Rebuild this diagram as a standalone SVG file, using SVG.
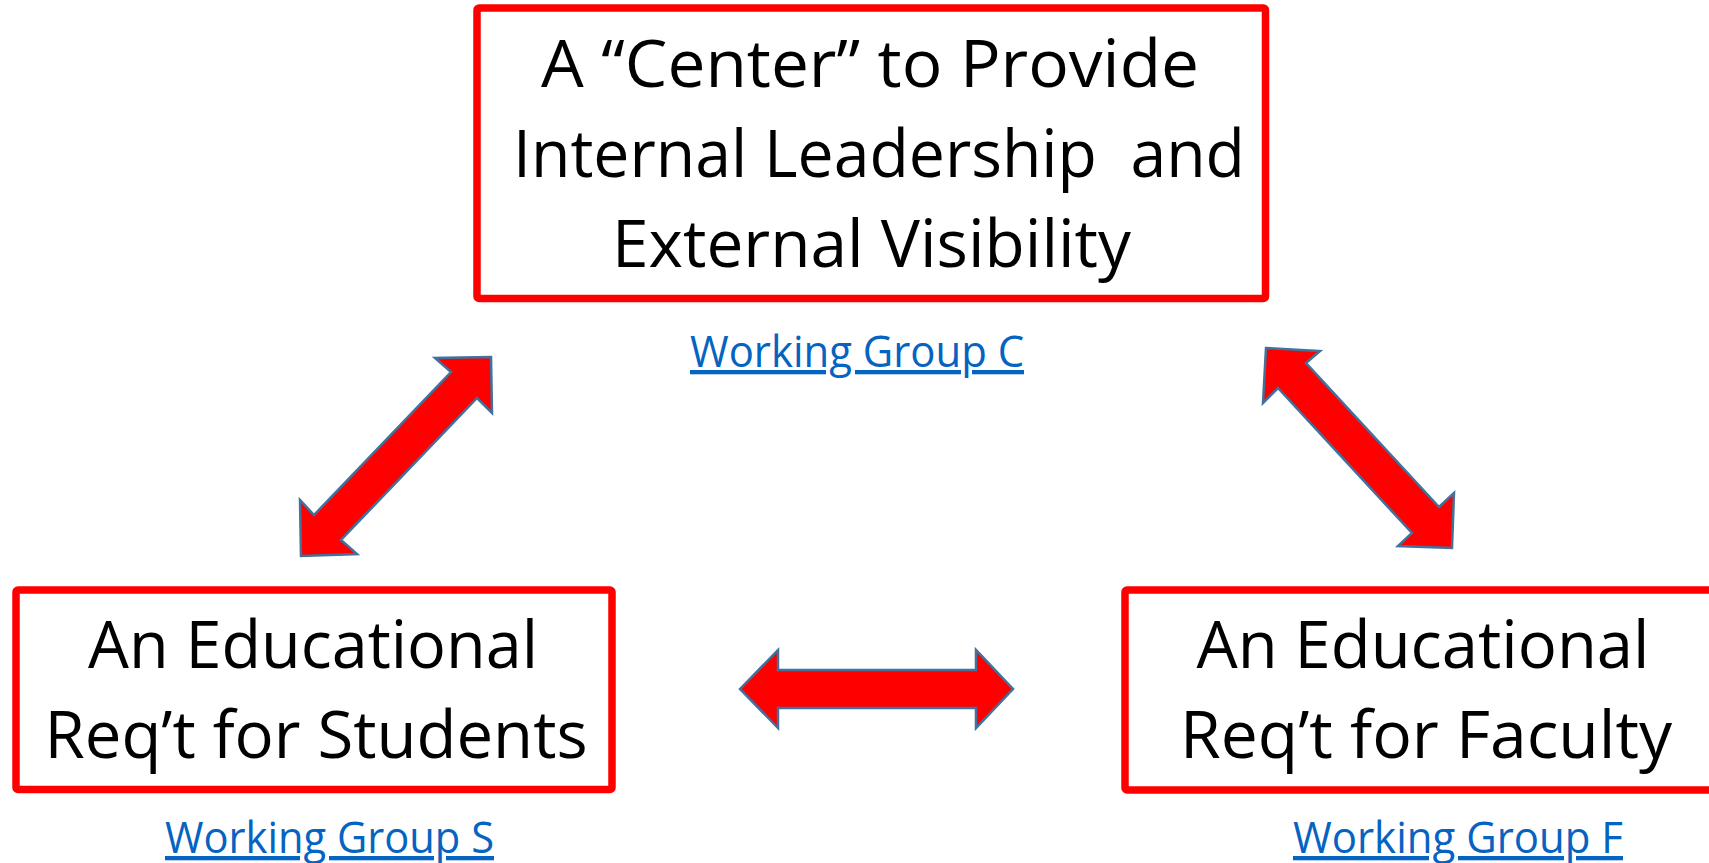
<svg xmlns="http://www.w3.org/2000/svg" width="1709" height="863" viewBox="0 0 1709 863">
<style>
.box{fill:#fff;stroke:#ff0000;stroke-width:7.5}
.big{font-family:"Open Sans","Liberation Sans",sans-serif;font-size:66px;fill:#000;text-anchor:middle;white-space:pre}
.link{font-family:"Open Sans","Liberation Sans",sans-serif;font-size:43px;fill:#0563C1;text-anchor:middle;text-decoration:underline}
.arrow{fill:#ff0000;stroke:#41719C;stroke-width:2.5;stroke-linejoin:miter}
</style>
<rect width="1709" height="863" fill="#fff"/>
<g id="connectors">
<polygon class="arrow" points="491,357 492,413 477,398 341,540 357,554 301,556 300,500 314,515 451,372 435,358"/>
<polygon class="arrow" points="1266,348 1320,351 1306,363 1439,507 1454,493 1452,548 1398,546 1412,533 1278,388 1263,403"/>
<polygon class="arrow" points="740,689 778,650 778,670 976,670 976,650 1013,689 976,728 976,708 778,708 778,728"/>
</g>
<g id="node-center">
<rect class="box" x="477" y="8" width="788.5" height="290.5" rx="2"/>
<text class="big" x="870" y="87" textLength="658" lengthAdjust="spacingAndGlyphs">A “Center” to Provide</text>
<text class="big" x="879" y="177" textLength="732" lengthAdjust="spacingAndGlyphs">Internal Leadership  and</text>
<text class="big" x="871.5" y="267" textLength="519" lengthAdjust="spacingAndGlyphs">External Visibility</text>
<text class="link" x="857" y="367" textLength="334" lengthAdjust="spacingAndGlyphs">Working Group C</text>
</g>
<g id="node-students">
<rect class="box" x="16" y="590" width="596" height="199.5" rx="2"/>
<text class="big" x="313" y="668" textLength="450" lengthAdjust="spacingAndGlyphs">An Educational</text>
<text class="big" x="316" y="758" textLength="543" lengthAdjust="spacingAndGlyphs">Req’t for Students</text>
<text class="link" x="329.5" y="853" textLength="329" lengthAdjust="spacingAndGlyphs">Working Group S</text>
</g>
<g id="node-faculty">
<rect class="box" x="1125" y="590" width="600" height="200" rx="2"/>
<text class="big" x="1423" y="668" textLength="453" lengthAdjust="spacingAndGlyphs">An Educational</text>
<text class="big" x="1426" y="758" textLength="492" lengthAdjust="spacingAndGlyphs">Req’t for Faculty</text>
<text class="link" x="1458" y="853" textLength="330" lengthAdjust="spacingAndGlyphs">Working Group F</text>
</g>
</svg>
